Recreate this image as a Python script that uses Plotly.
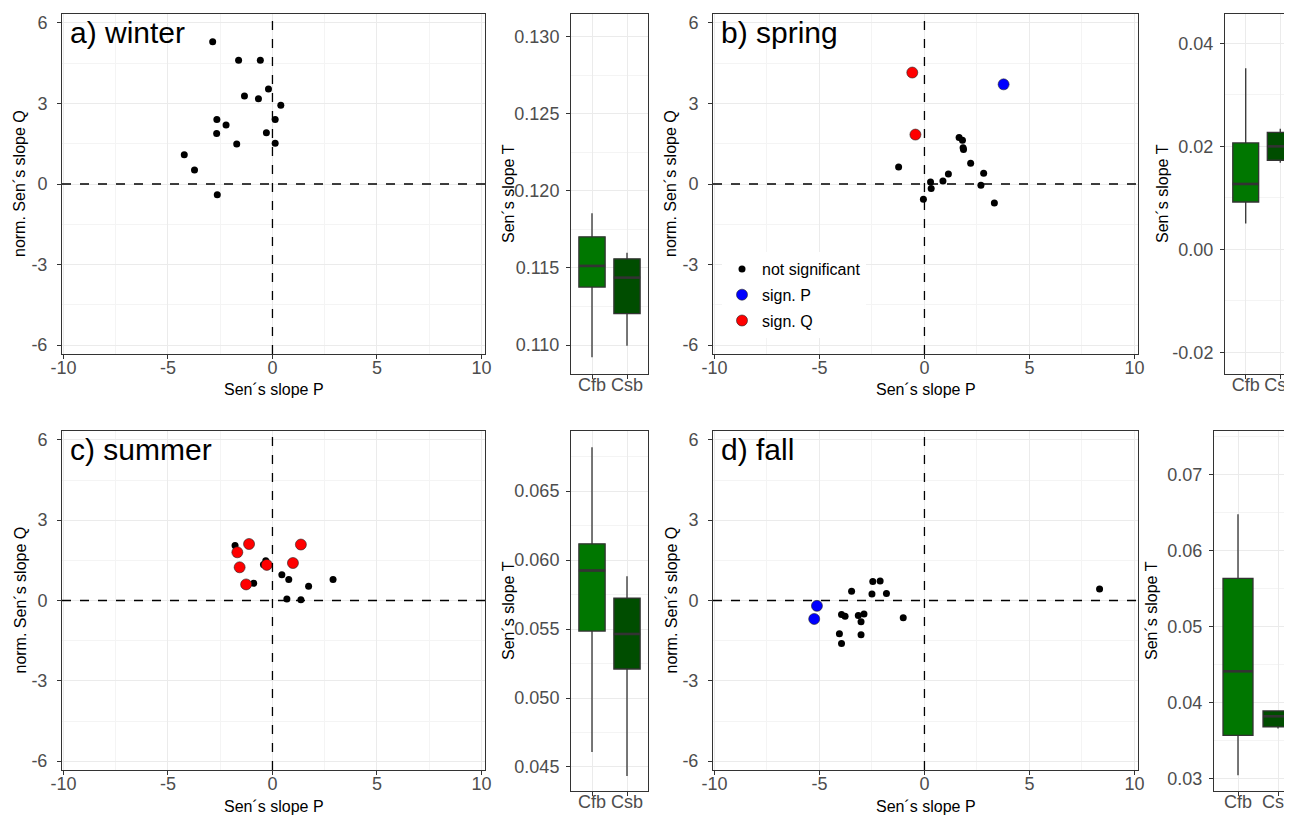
import plotly.graph_objects as go

# ---------------- data ----------------
# Scatter: Sen's slope P (x) vs normalised Sen's slope Q (y)
winter_ns_P = [-2.86, -1.62, -0.58, -0.19, -1.34, -0.67, 0.40, -2.66, 0.13, -2.22, -2.67, -0.29, -1.71, 0.13, -4.22, -3.73, -2.64]
winter_ns_Q = [5.30, 4.61, 4.61, 3.54, 3.28, 3.17, 2.93, 2.40, 2.40, 2.20, 1.88, 1.91, 1.49, 1.52, 1.09, 0.52, -0.40]

spring_ns_P = [-1.23, 1.65, 1.81, 1.84, 1.86, 2.20, 2.82, 2.69, 3.33, 1.14, 0.88, 0.29, 0.32, -0.05]
spring_ns_Q = [0.63, 1.73, 1.63, 1.35, 1.28, 0.77, 0.40, -0.05, -0.71, 0.37, 0.11, 0.07, -0.17, -0.57]
spring_sP_P = [3.77]
spring_sP_Q = [3.71]
spring_sQ_P = [-0.58, -0.43]
spring_sQ_Q = [4.15, 1.84]

summer_ns_P = [-1.79, -0.90, -0.43, -0.32, 0.45, 0.78, 0.69, 1.36, 1.73, 2.90]
summer_ns_Q = [2.05, 0.64, 1.34, 1.48, 0.96, 0.78, 0.06, 0.03, 0.53, 0.78]
summer_sQ_P = [-1.12, -1.68, -1.57, -1.26, -0.27, 0.98, 1.36]
summer_sQ_Q = [2.11, 1.80, 1.24, 0.60, 1.33, 1.40, 2.09]

fall_ns_P = [-3.47, -2.46, -2.11, -2.50, -1.81, -3.95, -3.78, -3.15, -2.88, -3.02, -1.01, -4.05, -3.95, -3.02, 8.34]
fall_ns_Q = [0.35, 0.71, 0.73, 0.24, 0.26, -0.52, -0.59, -0.56, -0.50, -0.79, -0.64, -1.24, -1.61, -1.28, 0.43]
fall_sP_P = [-5.12, -5.25]
fall_sP_Q = [-0.20, -0.69]

# Boxplots: Sen's slope T per climate class
climates = ["Cfb", "Csb"]
winter_T_lower = [0.1092, 0.10995]
winter_T_q1 = [0.11376, 0.11204]
winter_T_median = [0.11513, 0.11437]
winter_T_q3 = [0.11702, 0.11559]
winter_T_upper = [0.11854, 0.11598]

spring_T_lower = [0.0050, 0.0168]
spring_T_q1 = [0.0092, 0.0173]
spring_T_median = [0.0127, 0.0200]
spring_T_q3 = [0.02066, 0.0227]
spring_T_upper = [0.03515, 0.0234]

summer_T_lower = [0.04609, 0.04435]
summer_T_q1 = [0.05485, 0.0521]
summer_T_median = [0.05924, 0.05464]
summer_T_q3 = [0.06117, 0.05724]
summer_T_upper = [0.06817, 0.05883]

fall_T_lower = [0.03043, 0.0366]
fall_T_q1 = [0.0357, 0.0368]
fall_T_median = [0.04412, 0.0382]
fall_T_q3 = [0.05636, 0.0389]
fall_T_upper = [0.06478, 0.0390]

scatter_xticks = [-10, -5, 0, 5, 10]
scatter_xticktext = ["-10", "-5", "0", "5", "10"]
scatter_yticks = [-6, -3, 0, 3, 6]
scatter_yticktext = ["-6", "-3", "0", "3", "6"]

winter_T_ticks = [0.110, 0.115, 0.120, 0.125, 0.130]
winter_T_ticktext = ["0.110", "0.115", "0.120", "0.125", "0.130"]
spring_T_ticks = [-0.02, 0.00, 0.02, 0.04]
spring_T_ticktext = ["-0.02", "0.00", "0.02", "0.04"]
summer_T_ticks = [0.045, 0.050, 0.055, 0.060, 0.065]
summer_T_ticktext = ["0.045", "0.050", "0.055", "0.060", "0.065"]
fall_T_ticks = [0.03, 0.04, 0.05, 0.06, 0.07]
fall_T_ticktext = ["0.03", "0.04", "0.05", "0.06", "0.07"]

panel_labels = ["a) winter", "b) spring", "c) summer", "d) fall"]

# ---------------- layout helpers ----------------
W, H = 1292, 815
OFF = 8  # page body margin offset of the rendered figure
FONT = "Liberation Sans, Arial, sans-serif"
TICKCOL = "#4D4D4D"
LINECOL = "#333333"
GRID = "#EBEBEB"
GRIDMINOR = "#F4F4F4"
COL_CFB = "#007700"
COL_CSB = "#004D00"


def px_x(p):
    return min((p - OFF) / W, 1.0)


def px_y(p):
    return 1 - (p - OFF) / H


def xd(a, b):
    return [px_x(a), px_x(b)]


def yd(top, bottom):
    return [px_y(bottom), px_y(top)]


fig = go.Figure()

scatter_x = {"a": (62, 485), "b": (713, 1138), "c": (62, 485), "d": (713, 1138)}
scatter_y = {"a": (14, 354), "b": (14, 354), "c": (431, 770), "d": (431, 770)}
box_x = {"a": (571, 648), "b": (1225, 1292), "c": (571, 648), "d": (1214, 1292)}
box_y = {"a": (14, 374), "b": (14, 374), "c": (431, 791), "d": (431, 791)}
box_xrange = {"a": [-0.6, 1.6], "b": [-0.6, 1.34], "c": [-0.6, 1.6], "d": [-0.6, 1.35]}
box_yrange = {"a": [0.10812, 0.13147], "b": [-0.0242, 0.0457], "c": [0.04326, 0.06935], "d": [0.02837, 0.07574]}
box_ticks = {"a": (winter_T_ticks, winter_T_ticktext), "b": (spring_T_ticks, spring_T_ticktext),
             "c": (summer_T_ticks, summer_T_ticktext), "d": (fall_T_ticks, fall_T_ticktext)}

keys = ["a", "b", "c", "d"]
layout = {}
shapes = []
annotations = []

tickfont = dict(family=FONT, size=18, color=TICKCOL)

box_sets = {
    "a": (winter_T_lower, winter_T_q1, winter_T_median, winter_T_q3, winter_T_upper),
    "b": (spring_T_lower, spring_T_q1, spring_T_median, spring_T_q3, spring_T_upper),
    "c": (summer_T_lower, summer_T_q1, summer_T_median, summer_T_q3, summer_T_upper),
    "d": (fall_T_lower, fall_T_q1, fall_T_median, fall_T_q3, fall_T_upper),
}

for i, k in enumerate(keys):
    sn = 2 * i + 1
    bn = 2 * i + 2
    sx = "xaxis" if sn == 1 else f"xaxis{sn}"
    sy = "yaxis" if sn == 1 else f"yaxis{sn}"
    bx = f"xaxis{bn}"
    by = f"yaxis{bn}"
    sxref = "x" if sn == 1 else f"x{sn}"
    syref = "y" if sn == 1 else f"y{sn}"

    common = dict(showline=True, linecolor=LINECOL, linewidth=1, mirror=True,
                  ticks="outside", ticklen=4, tickcolor=LINECOL, tickwidth=1,
                  showgrid=True, gridcolor=GRID, gridwidth=1, zeroline=False,
                  tickfont=tickfont, automargin=False)
    layout[sx] = dict(common, domain=xd(*scatter_x[k]), anchor=syref, range=[-10.07, 10.17],
                      tickmode="array", tickvals=scatter_xticks, ticktext=scatter_xticktext,
                      minor=dict(tickmode="array", tickvals=[-7.5, -2.5, 2.5, 7.5],
                                 showgrid=True, gridcolor=GRIDMINOR, gridwidth=1, ticks=""),
                      ticklabelstandoff=-7)
    layout[sy] = dict(common, domain=yd(*scatter_y[k]), anchor=sxref, range=[-6.33, 6.33],
                      tickmode="array", tickvals=scatter_yticks, ticktext=scatter_yticktext,
                      minor=dict(tickmode="array", tickvals=[-4.5, -1.5, 1.5, 4.5],
                                 showgrid=True, gridcolor=GRIDMINOR, gridwidth=1, ticks=""),
                      ticklabelstandoff=6)
    cut = k in ("b", "d")
    tv, tt = box_ticks[k]
    minor_vals = [(tv[m] + tv[m + 1]) / 2 for m in range(len(tv) - 1)]
    minor_vals += [tv[-1] + (tv[1] - tv[0]) / 2, tv[0] - (tv[1] - tv[0]) / 2]
    layout[bx] = dict(common, domain=xd(*box_x[k]), anchor=f"y{bn}", range=box_xrange[k],
                      type="category", categoryorder="array", categoryarray=climates,
                      ticklabelstandoff=-10, mirror=True)
    layout[by] = dict(common, domain=yd(*box_y[k]), anchor=f"x{bn}", range=box_yrange[k],
                      tickmode="array", tickvals=tv, ticktext=tt,
                      minor=dict(tickmode="array", tickvals=minor_vals, showgrid=True,
                                 gridcolor=GRIDMINOR, gridwidth=1, ticks=""),
                      ticklabelstandoff=3, mirror=(False if cut else True))

    # dashed reference lines
    shapes.append(dict(type="line", xref=sxref, yref=f"{syref} domain", x0=0, x1=0, y0=0, y1=1,
                       line=dict(color="black", width=1.3, dash="dash"), layer="above"))
    shapes.append(dict(type="line", xref=f"{sxref} domain", yref=syref, x0=0, x1=1, y0=0, y1=0,
                       line=dict(color="black", width=1.3, dash="dash"), layer="above"))

    # thicker median lines as in ggplot boxplots
    med = box_sets[k][2]
    for j in range(len(climates)):
        shapes.append(dict(type="line", xref=f"x{bn}", yref=f"y{bn}",
                           x0=j - 0.375, x1=j + 0.375, y0=med[j], y1=med[j],
                           line=dict(color=LINECOL, width=2.6), layer="above"))

    x0, x1 = scatter_x[k]
    y0, y1 = scatter_y[k]
    annotations.append(dict(text="Sen´s slope P", xref="paper", yref="paper",
                            x=px_x((x0 + x1) / 2), y=px_y(y1 + 36), showarrow=False,
                            font=dict(family=FONT, size=16, color="black"),
                            xanchor="center", yanchor="middle"))
    annotations.append(dict(text="norm. Sen´s slope Q", xref="paper", yref="paper",
                            x=px_x(x0 - 42), y=px_y((y0 + y1) / 2), showarrow=False, textangle=-90,
                            font=dict(family=FONT, size=16, color="black"),
                            xanchor="center", yanchor="middle"))
    bx0, bx1 = box_x[k]
    by0, by1 = box_y[k]
    annotations.append(dict(text="Sen´s slope T", xref="paper", yref="paper",
                            x=px_x(bx0 - 63), y=px_y((by0 + by1) / 2), showarrow=False, textangle=-90,
                            font=dict(family=FONT, size=16, color="black"),
                            xanchor="center", yanchor="middle"))
    annotations.append(dict(text=panel_labels[i], xref="paper", yref="paper",
                            x=px_x(x0 + 6), y=px_y(y0 + 18), showarrow=False,
                            font=dict(family=FONT, size=30, color="black"),
                            xanchor="left", yanchor="middle"))

# ---------------- traces ----------------
ns_marker = dict(color="black", size=7, line=dict(width=0))
sP_marker = dict(color="#0000FF", size=11, line=dict(color="#222222", width=0.6))
sQ_marker = dict(color="#FF0000", size=11, line=dict(color="#222222", width=0.6))

scatter_sets = {
    "a": [(winter_ns_P, winter_ns_Q, "ns")],
    "b": [(spring_ns_P, spring_ns_Q, "ns"), (spring_sP_P, spring_sP_Q, "sP"), (spring_sQ_P, spring_sQ_Q, "sQ")],
    "c": [(summer_ns_P, summer_ns_Q, "ns"), (summer_sQ_P, summer_sQ_Q, "sQ")],
    "d": [(fall_ns_P, fall_ns_Q, "ns"), (fall_sP_P, fall_sP_Q, "sP")],
}
names = {"ns": "not significant", "sP": "sign. P", "sQ": "sign. Q"}
markers = {"ns": ns_marker, "sP": sP_marker, "sQ": sQ_marker}

for i, k in enumerate(keys):
    sn = 2 * i + 1
    bn = 2 * i + 2
    sxref = "x" if sn == 1 else f"x{sn}"
    syref = "y" if sn == 1 else f"y{sn}"
    for px, qy, cat in scatter_sets[k]:
        fig.add_trace(go.Scatter(x=px, y=qy, mode="markers", marker=markers[cat],
                                 name=names[cat], legendgroup=cat,
                                 showlegend=(k == "b"), xaxis=sxref, yaxis=syref))
    lo, q1, med, q3, up = box_sets[k]
    for j, c in enumerate(climates):
        fig.add_trace(go.Box(x=[c], lowerfence=[lo[j]], q1=[q1[j]], median=[med[j]],
                             q3=[q3[j]], upperfence=[up[j]],
                             fillcolor=COL_CFB if j == 0 else COL_CSB,
                             line=dict(color=LINECOL, width=1.3), whiskerwidth=0,
                             width=0.75, showlegend=False, xaxis=f"x{bn}", yaxis=f"y{bn}",
                             hoverinfo="skip"))

fig.update_layout(
    width=W, height=H, margin=dict(l=0, r=0, t=0, b=0, autoexpand=False),
    paper_bgcolor="white", plot_bgcolor="white",
    font=dict(family=FONT),
    shapes=shapes, annotations=annotations,
    showlegend=True,
    legend=dict(x=px_x(722), y=px_y(252), xanchor="left", yanchor="top",
                bgcolor="white", borderwidth=0,
                font=dict(family=FONT, size=16, color="black"),
                itemwidth=30, tracegroupgap=2),
    **layout,
)

fig.write_html("out.html")
